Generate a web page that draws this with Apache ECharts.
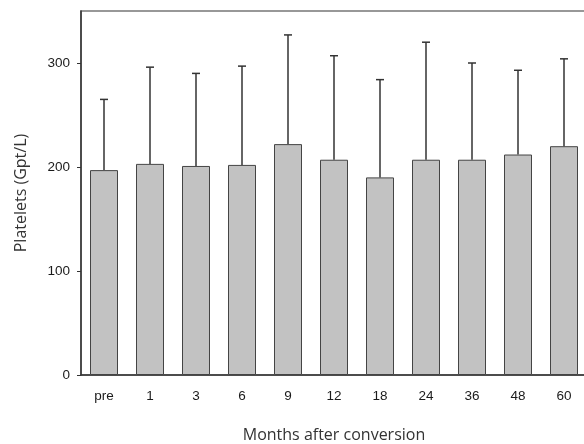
<!DOCTYPE html>
<html>
<head>
<meta charset="utf-8">
<script src="https://cdn.jsdelivr.net/npm/echarts@6/dist/echarts.min.js"></script>
<style>
  html, body { margin: 0; padding: 0; background: #fff; }
  #chart { width: 584px; height: 444px; }
</style>
</head>
<body>
<div id="chart"></div>
<script>
// months after conversion
const months = ['pre', '1', '3', '6', '9', '12', '18', '24', '36', '48', '60']
// mean platelets (Gpt/L)
const means = [197, 203, 201, 202, 222, 207, 190, 207, 207, 212, 220]
// mean + SD (top of error bar)
const upper = [265, 296, 290, 297, 327, 307, 284, 320, 300, 293, 304]
const yTicks = [0, 100, 200, 300]

const chart = echarts.init(document.getElementById('chart'))

const tickFont = { fontFamily: 'Liberation Sans', fontSize: 13.5, color: '#1a1a1a' }
const titleFont = { fontFamily: 'Open Sans', fontSize: 16, color: '#333' }

chart.setOption({
  animation: false,
  backgroundColor: '#fff',
  grid: {
    left: 81,
    top: 11,
    width: 506,
    height: 364,
    outerBoundsMode: 'none', // plot runs off the right edge in the original
    show: true,
    borderColor: '#777',
    borderWidth: 1.5,
  },
  xAxis: {
    type: 'category',
    data: months,
    name: 'Months after conversion',
    nameLocation: 'middle',
    nameGap: 52,
    nameTextStyle: titleFont,
    axisLine: { lineStyle: { color: '#333', width: 1.5 } },
    axisTick: { alignWithLabel: true, length: 3, lineStyle: { color: '#333' } },
    axisLabel: { ...tickFont, margin: 14 },
  },
  yAxis: {
    type: 'value',
    min: 0,
    max: 350,
    interval: 100,
    name: 'Platelets (Gpt/L)',
    nameLocation: 'middle',
    nameGap: 52,
    nameTextStyle: titleFont,
    splitLine: { show: false },
    axisLine: { show: true, lineStyle: { color: '#333', width: 1.5 } },
    axisTick: { show: true, length: 4, customValues: yTicks, lineStyle: { color: '#333' } },
    axisLabel: {
      ...tickFont,
      margin: 11,
      customValues: yTicks,
    },
  },
  series: [
    {
      type: 'bar',
      data: means,
      barWidth: 28,
      itemStyle: { color: '#c2c2c2', borderColor: '#444', borderWidth: 1 },
      z: 2,
    },
    {
      type: 'custom',
      data: months.map((m, i) => [i, means[i], upper[i]]),
      z: 3,
      renderItem: function (params, api) {
        const base = api.coord([api.value(0), api.value(1)])
        const top = api.coord([api.value(0), api.value(2)])
        const capHalf = 4
        return {
          type: 'group',
          children: [
            {
              type: 'line',
              shape: { x1: base[0], y1: base[1], x2: top[0], y2: top[1] },
              style: { stroke: '#333', lineWidth: 1.5 },
            },
            {
              type: 'line',
              shape: { x1: top[0] - capHalf, y1: top[1], x2: top[0] + capHalf, y2: top[1] },
              style: { stroke: '#333', lineWidth: 1.5 },
            },
          ],
        }
      },
    },
  ],
})
</script>
</body>
</html>
